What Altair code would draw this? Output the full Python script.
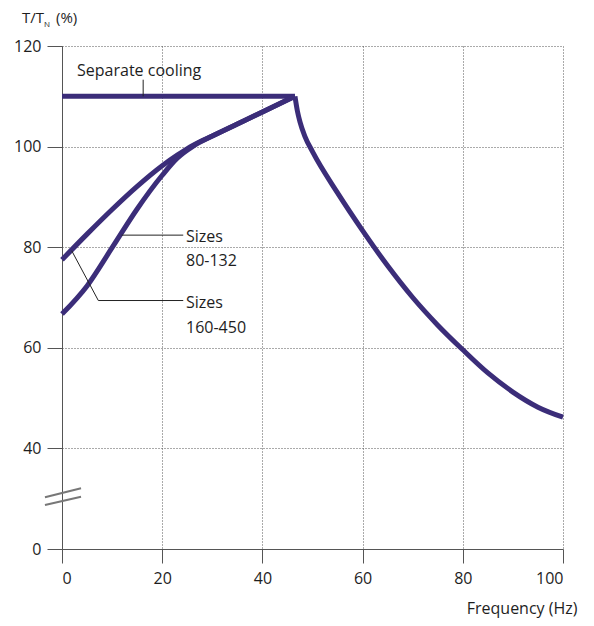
import altair as alt
import pandas as pd

# ---- data ----
# separate cooling plateau
sc_x = [0, 46.5]
sc_y = [110, 110]
# field-weakening range (common to all)
fw_x = [46.5, 47.0, 47.5, 48.5, 50, 55, 60, 65, 70, 75, 80, 85, 90, 95, 100]
fw_y = [110, 107.0, 104.9, 102.0, 99.0, 90.8, 83.3, 76.3, 70.0, 64.5, 59.6, 55.0, 51.2, 48.2, 46.2]
# sizes 160-450 (upper starting curve)
s1_x = [0, 5, 10, 15, 20, 23, 26.2, 30, 35, 40, 46.5]
s1_y = [77.5, 82.6, 87.5, 92.1, 96.2, 98.3, 100.3, 102.1, 104.5, 106.9, 110]
# sizes 80-132 (lower starting curve)
s2_x = [0, 5, 10, 15, 20, 23, 26.2, 30, 35, 40, 46.5]
s2_y = [66.7, 72.3, 79.9, 87.6, 94.3, 97.7, 100.1, 102.1, 104.5, 106.9, 110]

x_ticks = [0, 20, 40, 60, 80, 100]
y_ticks = [20, 40, 60, 80, 100, 120]   # 20 is shown as "0" (broken axis)

# annotation leader segments (data units)
lead_x = [16.2, 11.9, 1.94, 7.25]
lead_y = [110, 82.4, 79.3, 69.4]
lead_x2 = [16.2, 24.2, 7.25, 24.2]
lead_y2 = [113.3, 82.4, 69.4, 69.4]

label_text = ["Sizes", "80-132", "Sizes", "160-450"]
label_x = [24.75, 24.75, 24.75, 24.75]
label_y = [82.1, 77.3, 68.9, 64.0]

# axis-break marks
brk_x = [-3.4, -3.4]
brk_y = [30.28, 28.75]
brk_x2 = [3.8, 3.8]
brk_y2 = [32.07, 30.4]

LINE = "#3b2d79"
FONT = "Open Sans"
TXT = "#1e1e1e"
FS = 16

rows = []
for name, xs_, ys_ in [("sc", sc_x, sc_y), ("fw", fw_x, fw_y), ("s1", s1_x, s1_y), ("s2", s2_x, s2_y)]:
    for a, b in zip(xs_, ys_):
        rows.append({"series": name, "x": a, "y": b})
curves = pd.DataFrame(rows)

leads = pd.DataFrame({"x": lead_x, "y": lead_y, "x2": lead_x2, "y2": lead_y2})
labels = pd.DataFrame({"t": label_text, "x": label_x, "y": label_y})
brk = pd.DataFrame({"x": brk_x, "y": brk_y, "x2": brk_x2, "y2": brk_y2})
sc_lab = pd.DataFrame({"t": ["Separate cooling"], "x": [3.0], "y": [114.0]})

xs = alt.Scale(domain=[0, 100], nice=False, zero=False)
ys = alt.Scale(domain=[20, 120], nice=False, zero=False)

x_axis = alt.Axis(values=x_ticks, grid=True, gridDash=[1, 2], gridColor="#555", gridWidth=1,
                  tickSize=14, tickColor="#555", domainColor="#555", labelFont=FONT,
                  labelFontSize=FS, labelColor=TXT, labelPadding=7,
                  title="Frequency (Hz)", titleFont=FONT, titleFontSize=FS, titleFontWeight="normal",
                  titleColor=TXT, titleAlign="right", titleBaseline="middle", titleX=515, titleY=59)
y_axis = alt.Axis(values=y_ticks, grid=True, gridDash=[1, 2], gridColor="#555", gridWidth=1,
                  tickSize=15, tickColor="#555", domainColor="#555", labelFont=FONT,
                  labelFontSize=FS, labelColor=TXT, labelPadding=6,
                  labelExpr="datum.value == 20 ? '0' : datum.label", title=None)

base_x = alt.X("x:Q", scale=xs, axis=x_axis)
base_y = alt.Y("y:Q", scale=ys, axis=y_axis)

lines = alt.Chart(curves).mark_line(color=LINE, strokeWidth=5, interpolate="monotone",
                                    strokeJoin="miter", strokeCap="butt").encode(
    x=base_x, y=base_y, detail="series:N")

leader = alt.Chart(leads).mark_rule(color="#222", strokeWidth=1).encode(
    x=alt.X("x:Q", scale=xs), y=alt.Y("y:Q", scale=ys), x2="x2:Q", y2="y2:Q")

brks = alt.Chart(brk).mark_rule(color="#777", strokeWidth=2).encode(
    x=alt.X("x:Q", scale=xs), y=alt.Y("y:Q", scale=ys), x2="x2:Q", y2="y2:Q")

lab = alt.Chart(labels).mark_text(align="left", baseline="middle", font=FONT, fontSize=FS, color=TXT).encode(
    x=alt.X("x:Q", scale=xs), y=alt.Y("y:Q", scale=ys), text="t:N")

sclab = alt.Chart(sc_lab).mark_text(align="left", baseline="alphabetic", font=FONT, fontSize=FS, color=TXT).encode(
    x=alt.X("x:Q", scale=xs), y=alt.Y("y:Q", scale=ys), text="t:N")

t1 = alt.Chart(pd.DataFrame({"t": ["T/T"]})).mark_text(align="left", baseline="alphabetic", font=FONT,
                                                     fontSize=15, color=TXT).encode(
    x=alt.value(-40), y=alt.value(-23), text="t:N")
t2 = alt.Chart(pd.DataFrame({"t": ["N"]})).mark_text(align="left", baseline="alphabetic", font=FONT,
                                                   fontSize=8, color=TXT).encode(
    x=alt.value(-18), y=alt.value(-19), text="t:N")
t3 = alt.Chart(pd.DataFrame({"t": ["(%)"]})).mark_text(align="left", baseline="alphabetic", font=FONT,
                                                     fontSize=15, color=TXT).encode(
    x=alt.value(-6), y=alt.value(-23), text="t:N")

chart = alt.layer(lines, leader, brks, lab, sclab, t1, t2, t3).properties(
    width=501, height=503,
    padding={"left": 54, "top": 38, "right": 23, "bottom": 69},
    autosize=alt.AutoSizeParams(type="none"),
).configure_view(stroke=None)

chart.save("out.html", embed_options={"renderer": "svg", "actions": False})
